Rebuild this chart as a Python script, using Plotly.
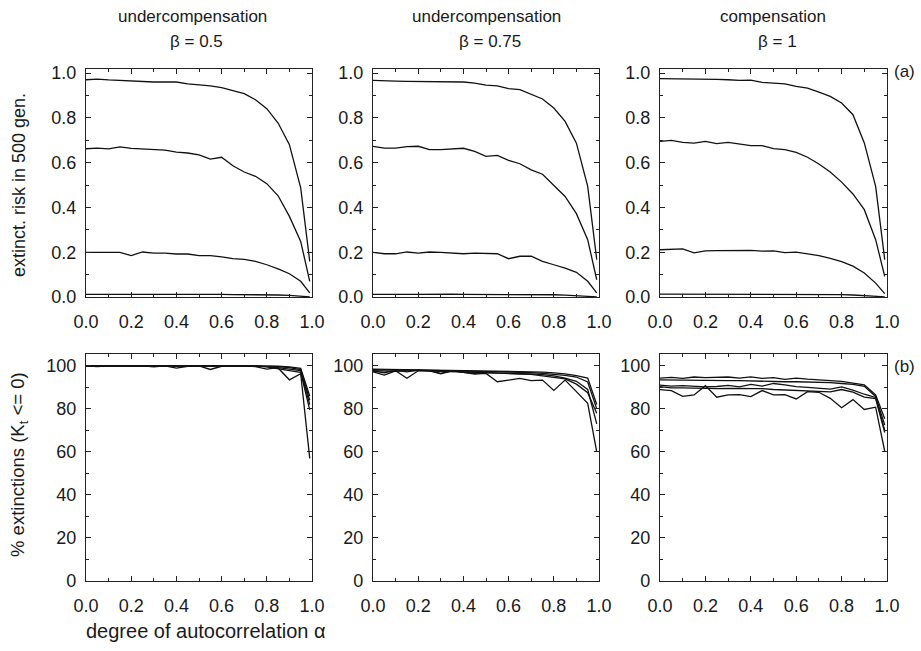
import plotly.graph_objects as go

# ---------------- data ----------------
alpha = [0.0, 0.05, 0.10, 0.15, 0.20, 0.25, 0.30, 0.35, 0.40, 0.45, 0.50,
         0.55, 0.60, 0.65, 0.70, 0.75, 0.80, 0.85, 0.90, 0.95, 0.99]

col_titles = ["undercompensation", "undercompensation", "compensation"]
beta_labels = ["β = 0.5", "β = 0.75", "β = 1"]

# extinction risk in 500 generations (top row)
risk_b05_1 = [0.970, 0.973, 0.969, 0.966, 0.966, 0.961, 0.960, 0.960, 0.960, 0.952, 0.949,
              0.943, 0.935, 0.923, 0.908, 0.881, 0.841, 0.777, 0.680, 0.487, 0.159]
risk_b05_2 = [0.662, 0.665, 0.661, 0.670, 0.664, 0.661, 0.658, 0.656, 0.647, 0.643, 0.635,
              0.616, 0.624, 0.586, 0.558, 0.539, 0.506, 0.452, 0.360, 0.248, 0.070]
risk_b05_3 = [0.199, 0.199, 0.201, 0.199, 0.185, 0.201, 0.196, 0.196, 0.192, 0.192, 0.185,
              0.185, 0.179, 0.171, 0.168, 0.159, 0.144, 0.126, 0.104, 0.070, 0.018]
risk_b05_4 = [0.012, 0.012, 0.012, 0.012, 0.013, 0.014, 0.015, 0.014, 0.014, 0.013, 0.013,
              0.012, 0.012, 0.011, 0.011, 0.011, 0.010, 0.009, 0.007, 0.004, 0.001]

risk_b075_1 = [0.967, 0.964, 0.964, 0.963, 0.962, 0.962, 0.962, 0.962, 0.960, 0.955, 0.946,
               0.943, 0.930, 0.926, 0.906, 0.884, 0.844, 0.784, 0.687, 0.494, 0.167]
risk_b075_2 = [0.673, 0.665, 0.665, 0.671, 0.673, 0.658, 0.658, 0.661, 0.664, 0.650, 0.628,
               0.632, 0.610, 0.595, 0.568, 0.548, 0.500, 0.449, 0.372, 0.256, 0.077]
risk_b075_3 = [0.199, 0.193, 0.193, 0.201, 0.196, 0.201, 0.199, 0.196, 0.193, 0.196, 0.196,
               0.193, 0.171, 0.182, 0.182, 0.159, 0.144, 0.129, 0.110, 0.070, 0.018]
risk_b075_4 = [0.012, 0.011, 0.011, 0.012, 0.012, 0.013, 0.013, 0.013, 0.012, 0.012, 0.013,
               0.013, 0.012, 0.012, 0.011, 0.011, 0.010, 0.008, 0.006, 0.004, 0.001]

risk_b1_1 = [0.975, 0.975, 0.975, 0.974, 0.973, 0.972, 0.970, 0.967, 0.968, 0.958, 0.955,
             0.952, 0.940, 0.933, 0.915, 0.896, 0.866, 0.814, 0.688, 0.494, 0.167]
risk_b1_2 = [0.695, 0.699, 0.690, 0.687, 0.695, 0.685, 0.690, 0.682, 0.676, 0.676, 0.662,
             0.658, 0.646, 0.624, 0.594, 0.558, 0.513, 0.460, 0.390, 0.256, 0.092]
risk_b1_3 = [0.211, 0.213, 0.215, 0.197, 0.206, 0.207, 0.208, 0.209, 0.208, 0.205, 0.206,
             0.198, 0.200, 0.193, 0.185, 0.172, 0.158, 0.138, 0.107, 0.062, 0.015]
risk_b1_4 = [0.013, 0.013, 0.014, 0.014, 0.013, 0.013, 0.014, 0.013, 0.013, 0.012, 0.014,
             0.013, 0.012, 0.012, 0.012, 0.013, 0.011, 0.009, 0.007, 0.004, 0.001]

# % extinctions with K_t <= 0 (bottom row)
pct_b05_1 = [100, 100, 100, 100, 100, 100, 100, 100, 100, 100, 100,
             100, 100, 100, 100, 100, 99.9, 99.8, 99.5, 98.8, 86.0]
pct_b05_2 = [100, 100, 100, 100, 100, 100, 100, 100, 100, 100, 100,
             100, 100, 100, 100, 99.9, 99.8, 99.6, 99.2, 98.3, 84.0]
pct_b05_3 = [100, 100, 100, 100, 100, 100, 100, 100, 98.9, 99.8, 100,
             100, 100, 100, 100, 99.6, 98.5, 99.2, 98.6, 97.8, 82.0]
pct_b05_4 = [100, 99.6, 100, 100, 100, 100, 99.5, 100, 100, 100, 100,
             98.3, 99.8, 100, 100, 100, 99.5, 98.8, 97.8, 97.0, 79.5]
pct_b05_5 = [100, 100, 100, 100, 100, 100, 100, 100, 100, 100, 100,
             100, 100, 100, 100, 100, 99.6, 99.0, 93.5, 96.3, 57.0]

pct_b075_1 = [98.5, 98.4, 98.3, 98.3, 98.2, 98.1, 98.0, 97.9, 97.9, 97.8, 97.8,
              97.7, 97.6, 97.5, 97.4, 97.1, 96.7, 96.3, 95.5, 94.3, 82.0]
pct_b075_2 = [98.2, 98.0, 98.0, 98.0, 98.1, 97.9, 97.8, 97.7, 97.6, 97.6, 97.5,
              97.4, 97.2, 97.0, 96.8, 96.5, 96.2, 95.6, 94.8, 92.5, 80.0]
pct_b075_3 = [97.8, 97.6, 97.4, 97.8, 97.9, 97.6, 97.5, 97.3, 97.0, 96.9, 96.9,
              96.6, 96.6, 96.5, 96.3, 95.9, 95.3, 94.3, 92.8, 89.0, 73.0]
pct_b075_4 = [97.6, 96.8, 97.9, 97.2, 98.0, 97.8, 96.5, 97.8, 97.0, 96.5, 96.8,
              96.5, 96.3, 96.2, 96.0, 95.4, 94.5, 93.9, 91.5, 87.5, 78.0]
pct_b075_5 = [97.2, 95.7, 97.7, 94.2, 97.7, 97.7, 96.3, 97.7, 97.0, 96.2, 96.5,
              92.6, 93.4, 94.2, 93.1, 93.4, 88.6, 93.4, 88.0, 82.6, 60.0]

pct_b1_1 = [94.3, 94.6, 94.2, 94.8, 94.5, 94.5, 94.8, 94.3, 94.9, 94.2, 94.5,
            93.7, 94.3, 93.8, 93.5, 93.2, 92.8, 92.0, 91.1, 86.5, 75.4]
pct_b1_2 = [93.5, 93.4, 93.2, 93.2, 93.1, 93.1, 93.1, 93.1, 92.9, 92.9, 92.8,
            92.6, 92.6, 92.5, 92.3, 92.2, 91.8, 91.4, 90.5, 85.8, 72.5]
pct_b1_3 = [91.0, 90.6, 90.8, 90.5, 90.2, 90.4, 90.9, 90.2, 91.4, 90.6, 91.8,
            91.2, 90.3, 90.0, 89.6, 89.2, 90.2, 88.7, 86.8, 85.3, 70.0]
pct_b1_4 = [90.3, 89.8, 89.8, 89.6, 89.5, 89.4, 89.5, 89.5, 89.3, 89.4, 89.0,
            88.8, 88.5, 88.6, 88.2, 87.9, 89.0, 87.8, 85.5, 84.8, 69.0]
pct_b1_5 = [88.9, 88.5, 85.8, 86.5, 90.8, 85.4, 86.5, 86.6, 85.7, 88.5, 86.5,
            86.6, 84.6, 88.0, 87.7, 84.9, 80.5, 84.3, 79.7, 80.8, 60.3]

top_series = [
    [risk_b05_1, risk_b05_2, risk_b05_3, risk_b05_4],
    [risk_b075_1, risk_b075_2, risk_b075_3, risk_b075_4],
    [risk_b1_1, risk_b1_2, risk_b1_3, risk_b1_4],
]
bottom_series = [
    [pct_b05_1, pct_b05_2, pct_b05_3, pct_b05_4, pct_b05_5],
    [pct_b075_1, pct_b075_2, pct_b075_3, pct_b075_4, pct_b075_5],
    [pct_b1_1, pct_b1_2, pct_b1_3, pct_b1_4, pct_b1_5],
]

x_ticks = [0.0, 0.2, 0.4, 0.6, 0.8, 1.0]
top_y_ticks = [0.0, 0.2, 0.4, 0.6, 0.8, 1.0]
bottom_y_ticks = [0, 20, 40, 60, 80, 100]

# ---------------- layout geometry (pixels) ----------------
W, H = 921, 651
col_px = [(86, 312), (373, 599), (660, 887)]
top_px = (69, 297)
bot_px = (354, 581)

FONT = "Liberation Sans, Arial, Helvetica, sans-serif"
INK = "#1a1a1a"
TICKFONT = dict(family=FONT, size=18, color=INK)


def fx(p):
    return p / W


def fy(p):
    return 1 - p / H


fig = go.Figure()

axis_common = dict(
    showline=True, linecolor="#222222", linewidth=1.2, mirror="ticks",
    ticks="inside", ticklen=5, tickwidth=1, tickcolor="#222222",
    showgrid=False, zeroline=False, tickfont=TICKFONT, fixedrange=True,
    automargin=False,
)

layout_axes = {}
for c in range(3):
    for r in range(2):
        idx = c + 1 + 3 * r
        xname = "xaxis" if idx == 1 else f"xaxis{idx}"
        yname = "yaxis" if idx == 1 else f"yaxis{idx}"
        xref = "x" if idx == 1 else f"x{idx}"
        yref = "y" if idx == 1 else f"y{idx}"
        ypx = top_px if r == 0 else bot_px
        layout_axes[xname] = dict(
            axis_common,
            domain=[fx(col_px[c][0]), fx(col_px[c][1])],
            anchor=yref, range=[0, 1.0],
            tickvals=x_ticks, tickformat=".1f",
            minor=dict(ticks="inside", ticklen=3, tickwidth=1, tickcolor="#222222",
                       tickvals=[0.1, 0.3, 0.5, 0.7, 0.9]),
            ticklabelstandoff=8,
        )
        if r == 0:
            layout_axes[yname] = dict(
                axis_common,
                domain=[fy(ypx[1]), fy(ypx[0])],
                anchor=xref, range=[0, 1.018],
                tickvals=top_y_ticks, tickformat=".1f",
                minor=dict(ticks="inside", ticklen=3, tickwidth=1, tickcolor="#222222",
                           tickvals=[0.1, 0.3, 0.5, 0.7, 0.9]),
                ticklabelstandoff=5,
            )
            series = top_series[c]
        else:
            layout_axes[yname] = dict(
                axis_common,
                domain=[fy(ypx[1]), fy(ypx[0])],
                anchor=xref, range=[0, 105.5],
                tickvals=bottom_y_ticks,
                minor=dict(ticks="inside", ticklen=3, tickwidth=1, tickcolor="#222222",
                           tickvals=[10, 30, 50, 70, 90]),
                ticklabelstandoff=5,
            )
            series = bottom_series[c]
        for s in series:
            fig.add_trace(go.Scatter(
                x=alpha, y=s, mode="lines", xaxis=xref, yaxis=yref,
                line=dict(color="#111111", width=1.3), showlegend=False,
                hoverinfo="skip",
            ))

annotations = []
title_x = [192, 486, 773]
for c in range(3):
    annotations.append(dict(
        text=col_titles[c], x=fx(title_x[c]), y=fy(16), xref="paper", yref="paper",
        showarrow=False, xanchor="center", yanchor="middle",
        font=dict(family=FONT, size=17, color=INK)))
    annotations.append(dict(
        text=beta_labels[c], x=fx(title_x[c] + 4), y=fy(41), xref="paper", yref="paper",
        showarrow=False, xanchor="center", yanchor="middle",
        font=dict(family=FONT, size=17, color=INK)))

annotations += [
    dict(text="extinct. risk in 500 gen.", x=fx(19), y=fy(185), xref="paper", yref="paper",
         showarrow=False, textangle=-90, xanchor="center", yanchor="middle",
         font=dict(family=FONT, size=18, color=INK)),
    dict(text="% extinctions (K<sub>t</sub> <= 0)", x=fx(19), y=fy(465),
         xref="paper", yref="paper", showarrow=False, textangle=-90,
         xanchor="center", yanchor="middle",
         font=dict(family=FONT, size=18.5, color=INK)),
    dict(text="degree of autocorrelation α", x=fx(84), y=fy(631), xref="paper",
         yref="paper", showarrow=False, xanchor="left", yanchor="middle",
         font=dict(family=FONT, size=20, color=INK)),
    dict(text="(a)", x=fx(892), y=fy(72), xref="paper", yref="paper",
         showarrow=False, xanchor="left", yanchor="middle",
         font=dict(family=FONT, size=17, color=INK)),
    dict(text="(b)", x=fx(892), y=fy(366), xref="paper", yref="paper",
         showarrow=False, xanchor="left", yanchor="middle",
         font=dict(family=FONT, size=17, color=INK)),
]

fig.update_layout(
    width=W, height=H, autosize=False,
    margin=dict(l=0, r=0, t=0, b=0),
    paper_bgcolor="white", plot_bgcolor="white",
    annotations=annotations,
    **layout_axes,
)

fig.write_html("out.html", config={"displayModeBar": False})
